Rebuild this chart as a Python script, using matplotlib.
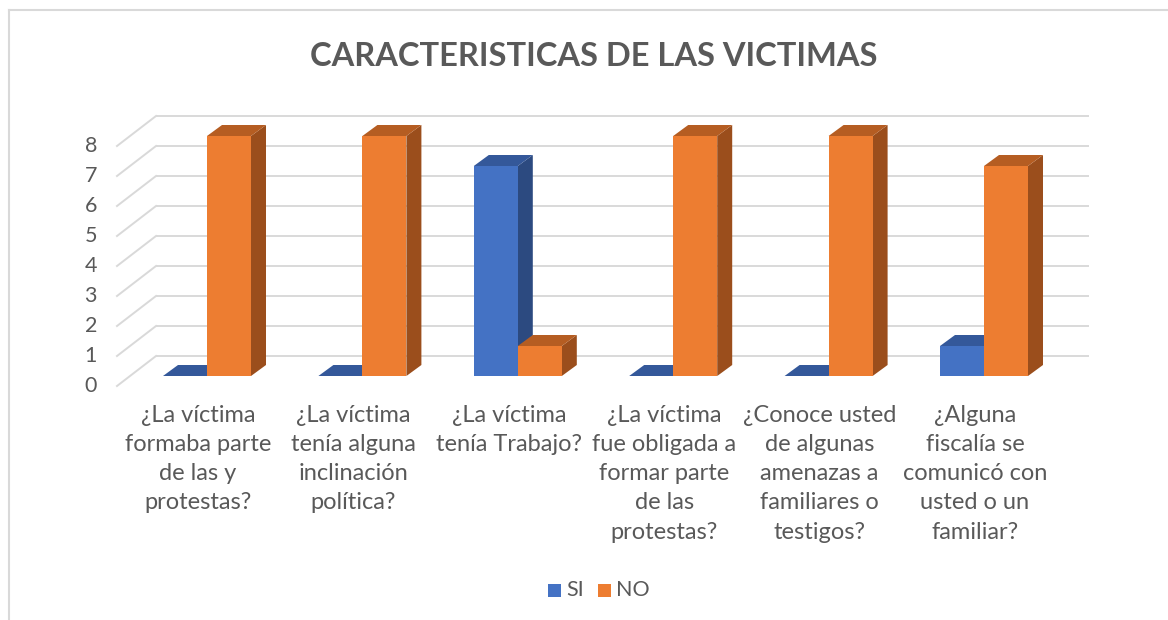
import matplotlib
matplotlib.use("Agg")
import matplotlib.pyplot as plt
from matplotlib.patches import Polygon

# ---- data ----
categories = [
    "¿La víctima\nformaba parte\nde las y\nprotestas?",
    "¿La víctima\ntenía alguna\ninclinación\npolítica?",
    "¿La víctima\ntenía Trabajo?",
    "¿La víctima\nfue obligada a\nformar parte\nde las\nprotestas?",
    "¿Conoce usted\nde algunas\namenazas a\nfamiliares o\ntestigos?",
    "¿Alguna\nfiscalía se\ncomunicó con\nusted o un\nfamiliar?",
]
si_values = [0, 0, 7, 0, 0, 1]
no_values = [8, 8, 1, 8, 8, 7]
series_names = ["SI", "NO"]
y_ticks = [0, 1, 2, 3, 4, 5, 6, 7, 8]
title = "CARACTERISTICAS DE LAS VICTIMAS"

# ---- style ----
W, H = 1168, 620
PX_X = 155.4   # pixels per category
PX_Y = 30.0    # pixels per unit
X0, Y0 = 207, 376  # pixel of category 0 / value 0 on bar plane
colors = {
    "SI": ("#4472C4", "#2C4A80", "#34589A"),
    "NO": ("#ED7D31", "#9B4E1C", "#B55D22"),
}
txt = "#595959"
grid = "#D9D9D9"
font = "Lato"

fig = plt.figure(figsize=(W / 100, H / 100), dpi=100)
ax = fig.add_axes([0, 0, 1, 1])
ax.set_xlim((0 - X0) / PX_X, (W - X0) / PX_X)
ax.set_ylim((Y0 - H) / PX_Y, Y0 / PX_Y)
ax.axis("off")

def px2x(p):
    return (p - X0) / PX_X

def py2v(p):
    return (Y0 - p) / PX_Y

# walls / gridlines
back_dy = 20 / PX_Y
front_dy = -10 / PX_Y
xb_left, xb_right, xf_left = px2x(156), px2x(1089), px2x(117)
for v in y_ticks:
    ax.plot([xb_left, xb_right], [v + back_dy, v + back_dy], color=grid, lw=1.4, solid_capstyle="butt", zorder=1)
    ax.plot([xf_left, xb_left], [v + front_dy, v + back_dy], color=grid, lw=1.4, zorder=1)
    ax.text(px2x(97), v + front_dy, str(v), ha="right", va="center",
            fontsize=15.5, color=txt, family=font)

# bars
bw = 44 / PX_X
ddx = 15 / PX_X
ddy = 11 / PX_Y
z = 3
for i in range(len(categories)):
    for k, (name, vals) in enumerate(zip(series_names, [si_values, no_values])):
        v = vals[i]
        xl = i - bw + k * bw
        xr = xl + bw
        front, side, top = colors[name]
        if v > 0:
            ax.add_patch(Polygon([(xr, 0), (xr + ddx, ddy), (xr + ddx, v + ddy), (xr, v)],
                                 closed=True, fc=side, ec="none", zorder=z))
        ax.add_patch(Polygon([(xl, v), (xr, v), (xr + ddx, v + ddy), (xl + ddx, v + ddy)],
                             closed=True, fc=top, ec="none", zorder=z))
        if v > 0:
            ax.add_patch(Polygon([(xl, 0), (xr, 0), (xr, v), (xl, v)],
                                 closed=True, fc=front, ec="none", zorder=z))
        z += 1

# category labels
for i, lab in enumerate(categories):
    ax.text(i - 9 / PX_X, py2v(405), lab, ha="center", va="top", fontsize=17,
            color=txt, family=font, linespacing=1.48)

# title
fig.text(594 / W, 1 - 56 / H, title, ha="center", va="center", fontsize=23.5,
         fontweight="bold", color=txt, family=font)

# legend
sq = 13
for name, x_sq, x_t in [("SI", 548, 566), ("NO", 598, 616)]:
    ax.add_patch(Polygon([(px2x(x_sq), py2v(597)), (px2x(x_sq + sq), py2v(597)),
                          (px2x(x_sq + sq), py2v(584)), (px2x(x_sq), py2v(584))],
                         closed=True, fc=colors[name][0], ec="none"))
    ax.text(px2x(x_t), py2v(590), name, ha="left", va="center", fontsize=15.5,
            color=txt, family=font)

# chart frame
ax.plot([px2x(9), px2x(W)], [py2v(10), py2v(10)], color=grid, lw=1.5)
ax.plot([px2x(9), px2x(9)], [py2v(10), py2v(H)], color=grid, lw=1.5)

fig.savefig("out.png", dpi=100)
